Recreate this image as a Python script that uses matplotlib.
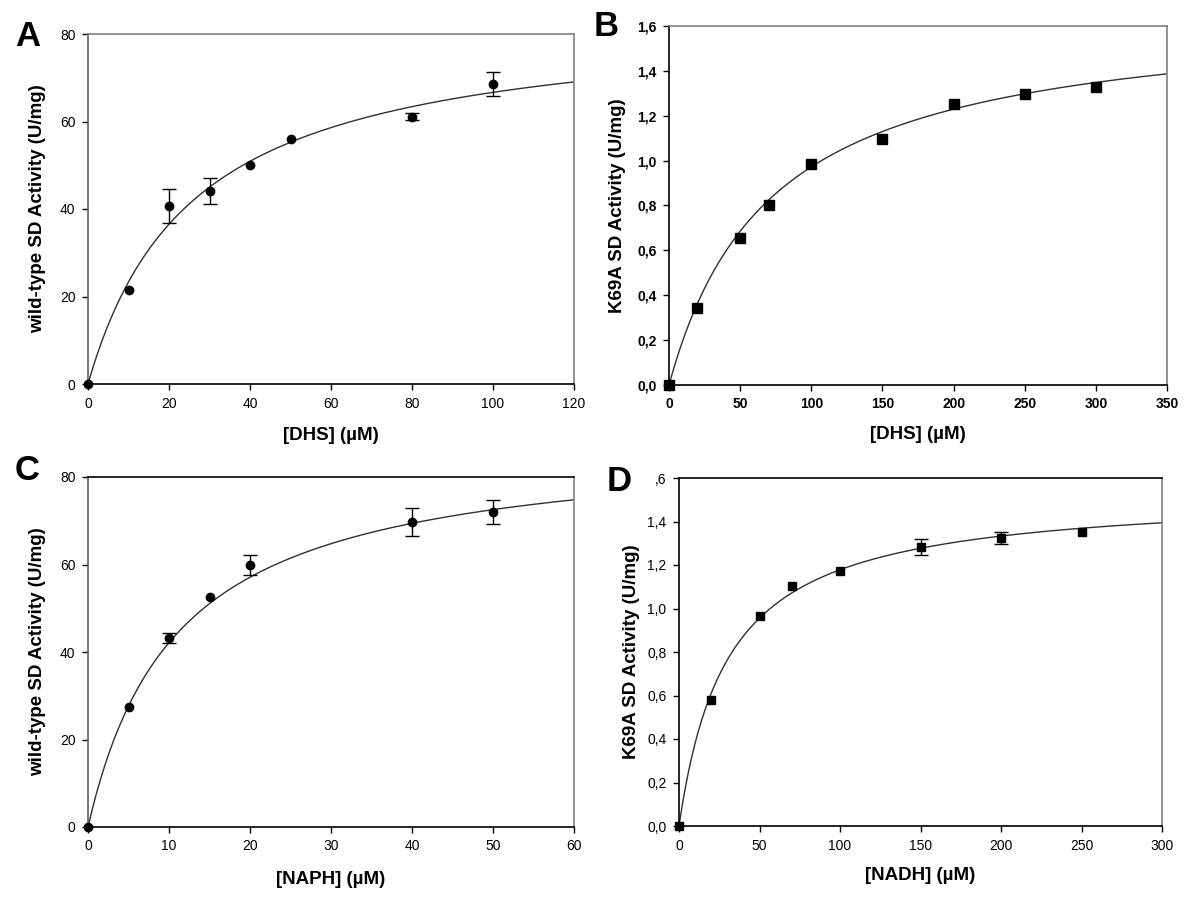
import numpy as np
import matplotlib
matplotlib.use('Agg')
import matplotlib.pyplot as plt

plt.rcParams['font.family'] = ['Liberation Sans', 'DejaVu Sans']

# panel A : wild-type, DHS
a_x = [0, 10, 20, 30, 40, 50, 80, 100]
a_y = [0, 21.4, 40.7, 44.1, 50.0, 56.1, 61.1, 68.6]
a_err = [0, 0, 3.8, 3.0, 0, 0, 0.8, 2.7]
a_fit = (84.0, 26.0)   # Vmax, Km

# panel B : K69A, DHS
b_x = [0, 20, 50, 70, 100, 150, 200, 250, 300]
b_y = [0, 0.342, 0.655, 0.804, 0.985, 1.095, 1.251, 1.296, 1.327]
b_fit = (1.672, 72.0)

# panel C : wild-type, NAPH
c_x = [0, 5, 10, 15, 20, 40, 50]
c_y = [0, 27.5, 43.2, 52.5, 59.8, 69.8, 72.0]
c_err = [0, 0, 1.1, 0, 2.3, 3.2, 2.8]
c_fit = (88.5, 11.0)

# panel D : K69A, NADH
d_x = [0, 20, 50, 70, 100, 150, 200, 250]
d_y = [0, 0.580, 0.965, 1.103, 1.173, 1.283, 1.325, 1.351]
d_err = [0, 0, 0, 0, 0, 0.038, 0.027, 0]
d_fit = (1.535, 30.3)

wt_label = 'wild-type SD Activity (U/mg)'
mut_label = 'K69A SD Activity (U/mg)'
k_yticks = [0.0, 0.2, 0.4, 0.6, 0.8, 1.0, 1.2, 1.4, 1.6]
b_yticklabels = ['0,0', '0,2', '0,4', '0,6', '0,8', '1,0', '1,2', '1,4', '1,6']
d_yticklabels = ['0,0', '0,2', '0,4', '0,6', '0,8', '1,0', '1,2', '1,4', ',6']

W, H = 1200, 898
fig = plt.figure(figsize=(W / 100, H / 100), dpi=100)


def box(left, top, right, bottom):
    return [left / W, 1 - bottom / H, (right - left) / W, (bottom - top) / H]


def mm(x, p):
    vmax, km = p
    return vmax * x / (km + x)


def points(ax, x, y, err, marker, ms):
    x, y = np.array(x), np.array(y)
    ax.plot(x, y, marker, color='black', ms=ms, clip_on=False, zorder=3)
    if err is not None:
        err = np.array(err)
        keep = err > 0
        ax.errorbar(x[keep], y[keep], yerr=err[keep], fmt='none', ecolor='black',
                    capsize=5, elinewidth=1, capthick=1, zorder=2)


def setup(ax, xmax, ymax, xticks, yticks, yticklabels, bold, spine_cols,
          xlabel, ylabel, ylab_x, xlab_y, letter, letter_xy):
    ax.set_xlim(0, xmax)
    ax.set_ylim(0, ymax)
    ax.set_xticks(xticks)
    ax.set_yticks(yticks)
    weight = 'bold' if bold else 'normal'
    ax.set_xticklabels([str(t) for t in xticks], fontsize=10, fontweight=weight)
    ax.set_yticklabels(yticklabels, fontsize=10, fontweight=weight)
    ax.tick_params(direction='out', length=4, width=1, pad=5, color='black')
    for side, col in zip(['top', 'left', 'right', 'bottom'], spine_cols):
        ax.spines[side].set_color(col)
        ax.spines[side].set_linewidth(1.2)
    ax.set_xlabel(xlabel, fontsize=13.5, fontweight='bold', va='center')
    ax.set_ylabel(ylabel, fontsize=13.5, fontweight='bold', va='center')
    ax.xaxis.set_label_coords(0.5, xlab_y)
    ax.yaxis.set_label_coords(ylab_x, 0.5)
    fig.text(letter_xy[0] / W, 1 - letter_xy[1] / H, letter, fontsize=25,
             fontweight='bold', ha='center', va='center')


# A
ax = fig.add_axes(box(88, 34, 574, 384))
xs = np.linspace(0, 120, 300)
ax.plot(xs, mm(xs, a_fit), color='#303030', lw=1)
points(ax, a_x, a_y, a_err, 'o', 6)
setup(ax, 120, 80, [0, 20, 40, 60, 80, 100, 120], [0, 20, 40, 60, 80],
      ['0', '20', '40', '60', '80'], False,
      ['#808080', '#606060', '#808080', 'black'],
      '[DHS] (\u00b5M)', wt_label, -0.103, -0.146, 'A', (28, 37))

# B
ax = fig.add_axes(box(669, 26, 1167, 385))
xs = np.linspace(0, 350, 300)
ax.plot(xs, mm(xs, b_fit), color='#303030', lw=1)
points(ax, b_x, b_y, None, 's', 6.5)
setup(ax, 350, 1.6, [0, 50, 100, 150, 200, 250, 300, 350], k_yticks,
      b_yticklabels, True, ['#808080', 'black', '#808080', 'black'],
      '[DHS] (\u00b5M)', mut_label, -0.104, -0.139, 'B', (606, 27))

# C
ax = fig.add_axes(box(88, 477, 574, 827))
xs = np.linspace(0, 60, 300)
ax.plot(xs, mm(xs, c_fit), color='#303030', lw=1)
points(ax, c_x, c_y, c_err, 'o', 6)
setup(ax, 60, 80, [0, 10, 20, 30, 40, 50, 60], [0, 20, 40, 60, 80],
      ['0', '20', '40', '60', '80'], False,
      ['black', '#606060', '#808080', 'black'],
      '[NAPH] (\u00b5M)', wt_label, -0.103, -0.149, 'C', (27, 471))

# D
ax = fig.add_axes(box(679, 478, 1162, 826))
xs = np.linspace(0, 300, 300)
ax.plot(xs, mm(xs, d_fit), color='#303030', lw=1)
points(ax, d_x, d_y, d_err, 's', 5.5)
setup(ax, 300, 1.6, [0, 50, 100, 150, 200, 250, 300], k_yticks,
      d_yticklabels, False, ['black', 'black', '#808080', 'black'],
      '[NADH] (\u00b5M)', mut_label, -0.099, -0.141, 'D', (619, 481))

fig.savefig('out.png', dpi=100)
